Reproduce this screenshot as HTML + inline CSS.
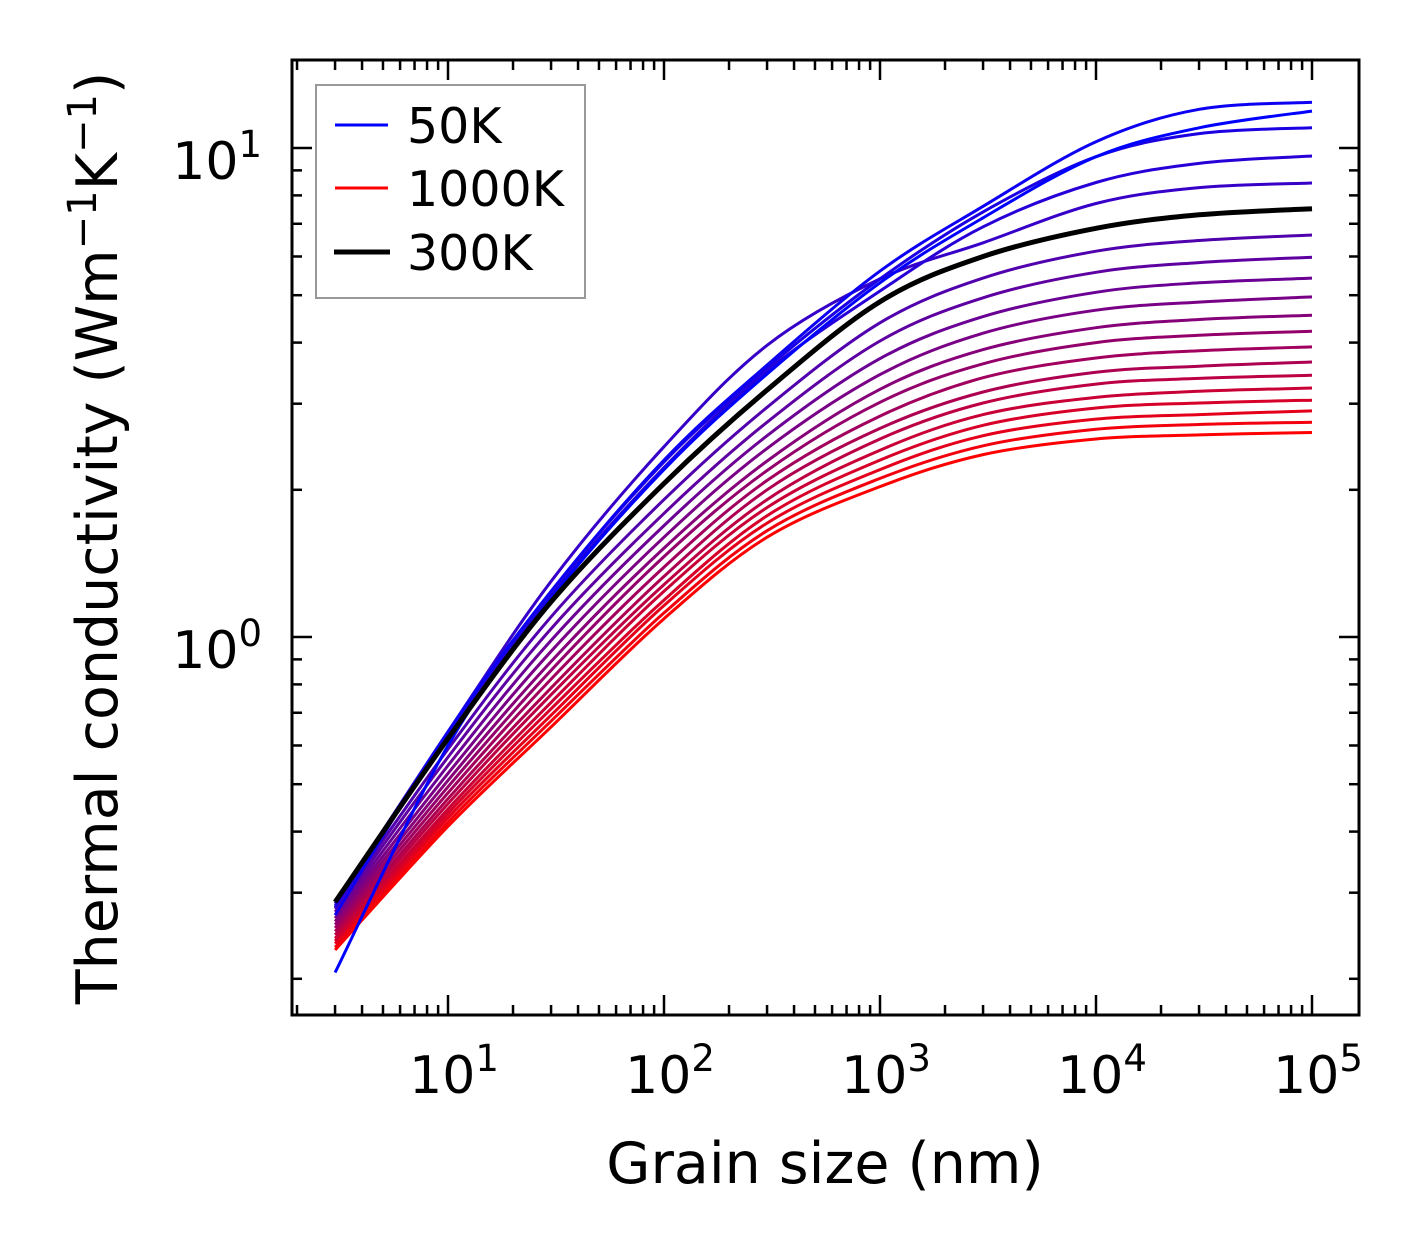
<!DOCTYPE html>
<html><head><meta charset="utf-8"><style>
html,body{margin:0;padding:0;background:#fff;}
svg{display:block;font-family:"DejaVu Sans","Liberation Sans",sans-serif;}
</style></head><body>
<svg id="chart" width="1421" height="1254" viewBox="0 0 1421 1254" xmlns="http://www.w3.org/2000/svg">
<g id="curves"></g>
<g id="axes"></g>
<g id="legend">
<rect x="316" y="85" width="269" height="213" fill="#fff" stroke="#999" stroke-width="2"/>
<line x1="335" y1="125" x2="388" y2="125" stroke="#0000ff" stroke-width="3"/>
<text x="407" y="143" font-size="49">50K</text>
<line x1="335" y1="188" x2="388" y2="188" stroke="#ff0000" stroke-width="3"/>
<text x="407" y="206" font-size="49">1000K</text>
<line x1="334" y1="252" x2="390" y2="252" stroke="#000" stroke-width="5"/>
<text x="407" y="270" font-size="49">300K</text>
</g>
<text x="825" y="1183" font-size="57" text-anchor="middle">Grain size (nm)</text>
<text transform="translate(117,538) rotate(-90)" font-size="57" text-anchor="middle">Thermal conductivity (Wm<tspan dy="-21" font-size="40">−1</tspan><tspan dy="21">K</tspan><tspan dy="-21" font-size="40">−1</tspan><tspan dy="21">)</tspan></text>
</svg>
<script>
const grainSizes = [3, 10, 30, 100, 300, 1000, 3000, 10000, 30000, 100000];
const temperatures = [50,100,150,200,250,300,350,400,450,500,550,600,650,700,750,800,850,900,950,1000];
const k50 = [0.206,0.60,1.2,2.2,3.45,5.3,7.2,9.6,11.0,11.9];
const k100 = [0.27,0.64,1.24,2.3,3.6,5.6,7.6,10.3,12.0,12.4];
const k150 = [0.28,0.64,1.24,2.28,3.55,5.4,7.4,9.6,10.7,11.0];
const k200 = [0.282,0.635,1.22,2.22,3.5,5.1,6.9,8.5,9.3,9.63];
const k250 = [0.285,0.64,1.3,2.45,3.95,5.4,6.4,7.7,8.3,8.48];
const k300 = [0.287,0.62,1.18,2.06,3.2,4.85,6.0,6.85,7.3,7.51];
const k350 = [0.278,0.590,1.10,1.91,2.95,4.39,5.42,6.15,6.47,6.64];
const k400 = [0.274,0.568,1.04,1.79,2.75,4.03,4.94,5.57,5.83,5.98];
const k450 = [0.270,0.546,0.984,1.69,2.58,3.71,4.52,5.07,5.30,5.42];
const k500 = [0.266,0.526,0.935,1.60,2.43,3.44,4.18,4.66,4.84,4.96];
const k550 = [0.262,0.509,0.891,1.52,2.29,3.21,3.87,4.29,4.46,4.55];
const k600 = [0.258,0.494,0.855,1.46,2.19,3.02,3.62,4.00,4.14,4.22];
const k650 = [0.254,0.480,0.820,1.39,2.09,2.83,3.39,3.72,3.85,3.92];
const k700 = [0.250,0.467,0.787,1.33,2.00,2.67,3.17,3.48,3.58,3.65];
const k750 = [0.246,0.456,0.762,1.28,1.91,2.54,3.01,3.29,3.38,3.43];
const k800 = [0.242,0.445,0.735,1.24,1.84,2.41,2.85,3.09,3.18,3.23];
const k850 = [0.239,0.436,0.713,1.19,1.77,2.30,2.71,2.94,3.01,3.05];
const k900 = [0.236,0.427,0.692,1.16,1.71,2.20,2.58,2.79,2.85,2.90];
const k950 = [0.232,0.418,0.673,1.12,1.65,2.11,2.46,2.66,2.72,2.75];
const k1000 = [0.229,0.41,0.655,1.09,1.60,2.03,2.36,2.54,2.59,2.62];
const series = [k50,k100,k150,k200,k250,k300,k350,k400,k450,k500,k550,k600,k650,k700,k750,k800,k850,k900,k950,k1000];
const xTickExps = [1,2,3,4,5];
const yTickExps = [0,1];

const NS = "http://www.w3.org/2000/svg";
const L = 292, R = 1359, T = 60, B = 1015;
const xLogMin = 1 - 156/216, pxPerDecX = 216;
const yLog0Pix = 637, pxPerDecY = 489;
function xPix(v){ return L + (Math.log10(v) - xLogMin) * pxPerDecX; }
function yPix(v){ return yLog0Pix - Math.log10(v) * pxPerDecY; }

function pathFor(vals){
  const pts = [];
  for (let i = 0; i < grainSizes.length; i++) pts.push([xPix(grainSizes[i]), yPix(vals[i])]);
  let d = "M" + pts[0][0].toFixed(1) + "," + pts[0][1].toFixed(1);
  for (let i = 0; i < pts.length - 1; i++) {
    const p0 = pts[Math.max(0,i-1)], p1 = pts[i], p2 = pts[i+1], p3 = pts[Math.min(pts.length-1,i+2)];
    const c1x = p1[0] + (p2[0]-p0[0])/6, c1y = p1[1] + (p2[1]-p0[1])/6;
    const c2x = p2[0] - (p3[0]-p1[0])/6, c2y = p2[1] - (p3[1]-p1[1])/6;
    d += " C" + c1x.toFixed(1)+","+c1y.toFixed(1)+" "+c2x.toFixed(1)+","+c2y.toFixed(1)+" "+p2[0].toFixed(1)+","+p2[1].toFixed(1);
  }
  return d;
}

const curves = document.getElementById("curves");
const blackIdx = temperatures.indexOf(300);
for (let i = temperatures.length - 1; i >= 0; i--) {
  const t = temperatures[i];
  if (i === blackIdx) continue;
  const f = (t - 50) / 950;
  const p = document.createElementNS(NS, "path");
  p.setAttribute("d", pathFor(series[i]));
  p.setAttribute("fill", "none");
  p.setAttribute("stroke", "rgb(" + Math.round(255*f) + ",0," + Math.round(255*(1-f)) + ")");
  p.setAttribute("stroke-width", "3");
  
  
  curves.appendChild(p);
}
{
  const p = document.createElementNS(NS, "path");
  p.setAttribute("d", pathFor(series[blackIdx]));
  p.setAttribute("fill", "none");
  p.setAttribute("stroke", "#000");
  p.setAttribute("stroke-width", "5");
  
  
  curves.appendChild(p);
}

const axes = document.getElementById("axes");
function line(x1,y1,x2,y2,w,name){
  const l = document.createElementNS(NS,"line");
  l.setAttribute("x1",x1); l.setAttribute("y1",y1); l.setAttribute("x2",x2); l.setAttribute("y2",y2);
  l.setAttribute("stroke","#000"); l.setAttribute("stroke-width",w);
  
  
  axes.appendChild(l);
}
const frame = document.createElementNS(NS,"rect");
frame.setAttribute("x",L); frame.setAttribute("y",T); frame.setAttribute("width",R-L); frame.setAttribute("height",B-T);
frame.setAttribute("fill","none"); frame.setAttribute("stroke","#000"); frame.setAttribute("stroke-width","3");


axes.appendChild(frame);

for (let e = 0; e <= 5; e++) {
  for (let m = 1; m <= 9; m++) {
    const v = m * Math.pow(10, e);
    const x = xPix(v);
    if (x <= L + 1 || x >= R - 1) continue;
    const len = m === 1 ? 20 : 10;
    line(x, B, x, B - len, 2.5, m === 1 ? 'x-major-tick' : 'x-minor-tick');
    line(x, T, x, T + len, 2.5, m === 1 ? 'x-major-tick-top' : 'x-minor-tick-top');
  }
}
for (let e = -1; e <= 1; e++) {
  for (let m = 1; m <= 9; m++) {
    const v = m * Math.pow(10, e);
    const y = yPix(v);
    if (y <= T + 1 || y >= B - 1) continue;
    const len = m === 1 ? 20 : 10;
    line(L, y, L + len, y, 2.5, m === 1 ? 'y-major-tick' : 'y-minor-tick');
    line(R, y, R - len, y, 2.5, m === 1 ? 'y-major-tick-right' : 'y-minor-tick-right');
  }
}
function tickLabel(x, y, exp, anchor, name){
  const t = document.createElementNS(NS,"text");
  t.setAttribute("x", x); t.setAttribute("y", y);
  t.setAttribute("font-size","52");
  t.setAttribute("text-anchor", anchor);
  t.innerHTML = '10<tspan dy="-22" font-size="37">' + exp + '</tspan>';
  
  
  axes.appendChild(t);
}
xTickExps.forEach(e => tickLabel(xPix(Math.pow(10,e)) + 6, 1093, e, "middle", 'x-tick-label'));
yTickExps.forEach(e => tickLabel(262, yPix(Math.pow(10,e)) + 31, e, "end", 'y-tick-label'));
</script>
</body></html>
